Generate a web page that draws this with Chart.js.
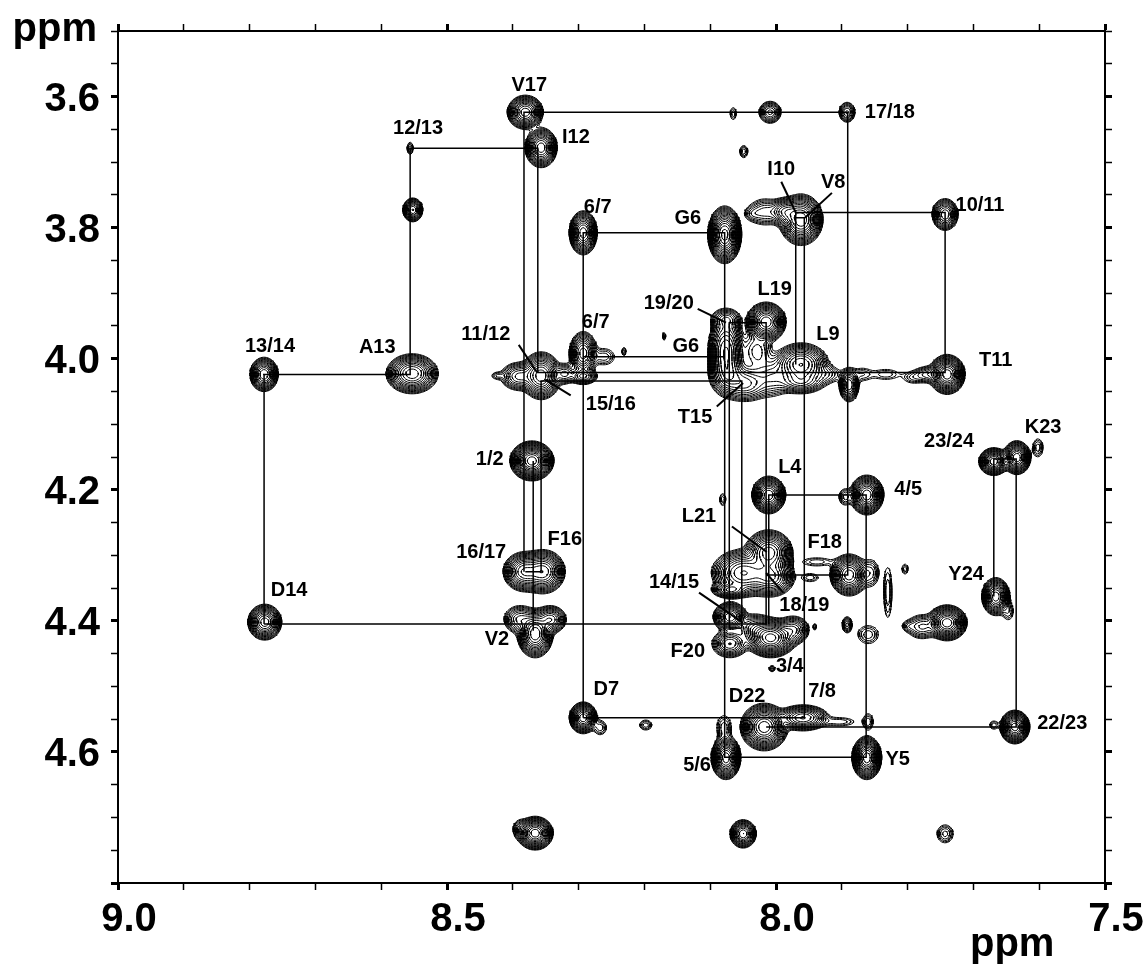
<!DOCTYPE html>
<html>
<head>
<meta charset="utf-8">
<script src="https://cdn.jsdelivr.net/npm/chart.js@4"></script>
<style>
  html, body { margin: 0; padding: 0; background: #fff; }
  canvas { display: block; }
</style>
</head>
<body>
<canvas id="grafica_noesy" width="1148" height="967"></canvas>
<script>
// cross peaks (ppm), widths are gaussian sigmas in ppm
const peakX = [8.381,8.357,8.556,8.552,8.553,8.778,8.777,8.357,8.391,8.424,8.371,8.383,8.354,8.366,8.389,8.343,8.366,8.389,
  8.293,8.078,8.293,8.293,8.261,8.321,8.231,8.170,8.065,8.009,7.892,8.049,7.962,7.986,8.017,8.036,7.743,
  8.076,8.073,8.015,8.076,8.029,8.047,8.006,7.962,7.962,7.924,7.889,7.869,7.833,7.792,7.769,7.740,
  7.669,7.634,7.602,8.011,7.862,7.895,8.081,8.050,8.011,8.008,8.070,7.889,7.856,7.938,7.948,7.830,7.804,
  7.740,7.778,7.799,7.666,7.647,7.892,7.860,7.941,8.008,8.070,8.070,8.032,7.974,8.006,
  8.293,8.267,8.198,8.018,7.959,7.903,7.860,8.079,8.076,7.862,7.637,7.669,8.050,7.743];
const peakY = [3.624,3.678,3.679,3.773,4.023,4.024,4.402,4.026,4.027,4.026,4.156,4.325,4.325,4.420,4.398,4.398,4.724,4.718,
  3.808,3.811,3.992,4.027,3.997,4.023,3.989,3.966,3.626,3.624,3.624,3.684,3.788,3.776,3.776,3.779,3.780,
  3.989,4.024,3.944,3.940,3.989,4.038,4.029,4.009,4.035,4.024,4.040,4.024,4.024,4.029,4.024,4.024,
  4.157,4.151,4.136,4.208,4.208,4.211,4.215,4.327,4.296,4.333,4.353,4.330,4.327,4.310,4.334,4.357,4.321,
  4.403,4.409,4.408,4.363,4.386,4.406,4.421,4.409,4.426,4.394,4.435,4.411,4.414,4.473,
  4.548,4.563,4.559,4.562,4.548,4.554,4.554,4.563,4.609,4.609,4.562,4.559,4.725,4.725];
const peakWx = [.0105,.0094,.0034,.0062,.0152,.0085,.0099,.0117,.0127,.0064,.0113,.0125,.0129,.0101,.0119,.0104,.0098,.0068,
  .0082,.0090,.0089,.0099,.0113,.0080,.0026,.0020,.0039,.0082,.0064,.0045,.0123,.0104,.0136,.0077,.0085,
  .0112,.0127,.0112,.0113,.0128,.0170,.0153,.0167,.0170,.0144,.0065,.0103,.0155,.0103,.0119,.0098,
  .0084,.0078,.0056,.0095,.0095,.0062,.0039,.0190,.0140,.0149,.0117,.0111,.0082,.0180,.0103,.0052,.0039,
  .0109,.0121,.0064,.0082,.0064,.0042,.0113,.0020,.0138,.0101,.0123,.0134,.0113,.0031,
  .0078,.0068,.0068,.0130,.0161,.0180,.0056,.0079,.0081,.0081,.0081,.0052,.0079,.0082];
const peakWy = [.0100,.0117,.0068,.0074,.0117,.0103,.0105,.0140,.0099,.0039,.0103,.0119,.0129,.0134,.0104,.0091,.0092,.0090,
  .0129,.0154,.0139,.0057,.0090,.0080,.0052,.0052,.0077,.0082,.0080,.0068,.0145,.0091,.0110,.0064,.0104,
  .0236,.0141,.0112,.0080,.0165,.0127,.0153,.0131,.0085,.0082,.0111,.0077,.0064,.0064,.0068,.0109,
  .0078,.0095,.0101,.0106,.0112,.0082,.0077,.0143,.0134,.0124,.0052,.0123,.0133,.0052,.0052,.0322,.0064,
  .0098,.0096,.0052,.0111,.0103,.0068,.0101,.0039,.0106,.0089,.0095,.0104,.0099,.0031,
  .0089,.0079,.0056,.0130,.0081,.0052,.0090,.0135,.0119,.0119,.0092,.0052,.0085,.0092];
const peakA = [30,30,2.5,20,30,25,30,30,10,2,80,25,30,40,8,15,50,3,
  30,60,18,10,2.5,6,2,2,2,8,6,2.5,40,15,5,2,15,
  20,10,40,6,4,10,5,25,10,3,15,2,2,2,5,50,
  40,40,2.5,40,40,3,2,25,30,20,15,30,3,2,2,2,2,
  50,6,2,30,2,5,2.5,2,60,25,12,8,10,3,
  40,2.5,2.5,50,20,2,2.5,2.5,50,50,50,2,25,3];

// sequential walk, each list is one connected path [ppm x, ppm y]
const walkLines = [
  [[8.383,4.325],[8.383,3.624],[7.891,3.624],[7.891,4.330],[8.015,4.330]],
  [[8.778,4.405],[8.778,4.024],[8.556,4.024],[8.556,3.679],[8.362,3.679],[8.362,4.021],[7.743,4.021],[7.743,3.777],[7.970,3.777],[7.970,4.009]],
  [[8.778,4.405],[8.015,4.405],[8.015,3.945],[8.071,3.945],[8.071,4.411],[8.052,4.411],[8.052,4.034],[8.357,4.034],[8.357,4.325],[8.381,4.325]],
  [[8.369,4.156],[8.369,4.415]],
  [[8.293,3.997],[8.078,3.997]],
  [[8.293,4.548],[8.293,3.808],[8.078,3.808],[8.078,4.608],[7.863,4.608],[7.863,4.208],[8.011,4.208],[8.011,4.405]],
  [[8.293,4.548],[7.957,4.548],[7.957,3.785],[7.970,3.785]],
  [[8.015,4.562],[7.635,4.562],[7.635,4.153],[7.669,4.153],[7.669,4.363]]
];
// short thick lines from a label to its peak
const leaderLines = [
  [[8.391,3.979],[8.363,4.021]],
  [[8.312,4.056],[8.351,4.032]],
  [[8.119,3.924],[8.076,3.945]],
  [[8.090,4.073],[8.050,4.037]],
  [[7.992,3.730],[7.970,3.777]],
  [[7.915,3.747],[7.956,3.785]],
  [[8.067,4.256],[8.014,4.295]],
  [[7.989,4.357],[8.015,4.327]],
  [[8.117,4.357],[8.050,4.403]]
];

const labelText = ["V17","12/13","I12","6/7","G6","I10","V8","17/18","10/11","19/20","L19","L9","6/7","G6","11/12","13/14","A13","T11",
  "15/16","T15","23/24","K23","1/2","L4","4/5","L21","F18","16/17","F16","Y24","D14","14/15","18/19","V2","F20","3/4","D7","D22","7/8","22/23","5/6","Y5"];
const labelX = [8.375,8.544,8.304,8.271,8.134,7.992,7.913,7.827,7.690,8.163,8.002,7.921,8.274,8.137,8.441,8.769,8.606,7.666,
  8.251,8.123,7.737,7.594,8.435,7.979,7.799,8.117,7.926,8.448,8.321,7.711,8.740,8.155,7.957,8.424,8.134,7.979,8.258,8.044,7.930,7.565,8.120,7.815];
const labelY = [3.583,3.649,3.663,3.770,3.786,3.711,3.731,3.624,3.766,3.915,3.895,3.963,3.945,3.982,3.963,3.982,3.983,4.002,
  4.070,4.090,4.127,4.105,4.154,4.166,4.200,4.240,4.281,4.295,4.276,4.330,4.354,4.342,4.377,4.429,4.447,4.470,4.504,4.516,4.508,4.557,4.621,4.611];

const unitText = ["ppm","ppm"];
const unitX = [9.096,7.641];
const unitY = [3.499,4.895];

// contour lines of the peak table, found with marching squares on a ppm grid
function contourSegments(){
  const xMin=7.5, xMax=9.0, yMin=3.5, yMax=4.8;
  const nx=658, ny=568;
  const dx=(xMax-xMin)/nx, dy=(yMax-yMin)/ny;
  const field=new Float64Array((nx+1)*(ny+1));
  for(let p=0;p<peakX.length;p++){
    const i0=Math.max(0,Math.floor((peakX[p]-4*peakWx[p]-xMin)/dx));
    const i1=Math.min(nx,Math.ceil((peakX[p]+4*peakWx[p]-xMin)/dx));
    const j0=Math.max(0,Math.floor((peakY[p]-4*peakWy[p]-yMin)/dy));
    const j1=Math.min(ny,Math.ceil((peakY[p]+4*peakWy[p]-yMin)/dy));
    for(let j=j0;j<=j1;j++){
      const v=(yMin+j*dy-peakY[p])/peakWy[p];
      for(let i=i0;i<=i1;i++){
        const u=(xMin+i*dx-peakX[p])/peakWx[p];
        field[j*(nx+1)+i]+=peakA[p]*Math.exp(-0.5*(u*u+v*v));
      }
    }
  }
  const levels=[];
  for(let l=1;l<400;l*=1.28) levels.push(l);
  const out=[];
  function cross(x0,y0,x1,y1,f0,f1,lev){
    const t=(lev-f0)/(f1-f0);
    return {x:x0+t*(x1-x0),y:y0+t*(y1-y0)};
  }
  for(let j=0;j<ny;j++){
    for(let i=0;i<nx;i++){
      const a=field[j*(nx+1)+i], b=field[j*(nx+1)+i+1], c=field[(j+1)*(nx+1)+i+1], d=field[(j+1)*(nx+1)+i];
      const lo=Math.min(a,b,c,d), hi=Math.max(a,b,c,d);
      if(hi<1) continue;
      const x0=xMin+i*dx, x1=x0+dx, y0=yMin+j*dy, y1=y0+dy;
      for(const lev of levels){
        if(lev<=lo) continue;
        if(lev>hi) break;
        const pts=[];
        if((a<lev)!==(b<lev)) pts.push(cross(x0,y0,x1,y0,a,b,lev));
        if((b<lev)!==(c<lev)) pts.push(cross(x1,y0,x1,y1,b,c,lev));
        if((c<lev)!==(d<lev)) pts.push(cross(x1,y1,x0,y1,c,d,lev));
        if((d<lev)!==(a<lev)) pts.push(cross(x0,y1,x0,y0,d,a,lev));
        if(pts.length>=2){ out.push(pts[0],pts[1],{x:NaN,y:NaN}); }
        if(pts.length===4){ out.push(pts[2],pts[3],{x:NaN,y:NaN}); }
      }
    }
  }
  return out;
}

function pathDataset(path,width){
  return {
    data: path.map(p=>({x:p[0],y:p[1]})),
    showLine:true, pointRadius:0, borderColor:"#000", borderWidth:width, tension:0, fill:false
  };
}

const isMajorX=v=>Math.abs(v*2-Math.round(v*2))<1e-6;
const isMajorY=v=>Math.abs(v*5-Math.round(v*5))<1e-6;

function fixSize(prop,size){
  return scale=>{
    scale[prop]=size;
    scale.paddingTop=scale.paddingBottom=scale.paddingLeft=scale.paddingRight=0;
  };
}
const axisGrid=(major)=>({
  display:true, drawOnChartArea:false, drawTicks:true, tickLength:7, tickColor:"#000",
  tickWidth:c=>major(c.tick.value)?3:1.5
});
const axisBorder={display:true,color:"#000",width:2};
const bigFont={family:"'Liberation Sans', Arial, sans-serif",size:40,weight:"bold"};

const textPlugin={
  id:"textos",
  afterDatasetsDraw(chart){
    const ctx=chart.ctx, xs=chart.scales.x, ys=chart.scales.y;
    ctx.save();
    ctx.fillStyle="#000";
    ctx.textAlign="center";
    ctx.textBaseline="middle";
    ctx.font="bold 20px 'Liberation Sans', Arial, sans-serif";
    labelText.forEach((t,i)=>ctx.fillText(t,xs.getPixelForValue(labelX[i]),ys.getPixelForValue(labelY[i])));
    ctx.font="bold 40px 'Liberation Sans', Arial, sans-serif";
    unitText.forEach((t,i)=>ctx.fillText(t,xs.getPixelForValue(unitX[i]),ys.getPixelForValue(unitY[i])));
    ctx.restore();
  }
};

new Chart("grafica_noesy",{
  type:"scatter",
  plugins:[textPlugin],
  data:{
    datasets:[
      {data:contourSegments(),showLine:true,pointRadius:0,borderColor:"#000",borderWidth:1,tension:0,fill:false,spanGaps:false},
      ...walkLines.map(l=>pathDataset(l,1.5)),
      ...leaderLines.map(l=>pathDataset(l,2))
    ]
  },
  options:{
    responsive:false,
    animation:false,
    events:[],
    layout:{padding:0},
    plugins:{legend:{display:false},tooltip:{enabled:false},title:{display:false}},
    scales:{
      x:{
        type:"linear",position:"bottom",reverse:true,min:7.5,max:9.0,
        afterFit:fixSize("height",84),
        grid:axisGrid(isMajorX),border:axisBorder,
        ticks:{stepSize:0.1,autoSkip:false,maxRotation:0,color:"#000",font:bigFont,padding:6,labelOffset:11,
          callback:v=>isMajorX(v)?v.toFixed(1):""}
      },
      xTop:{
        type:"linear",position:"top",reverse:true,min:7.5,max:9.0,
        afterFit:fixSize("height",31),
        grid:axisGrid(isMajorX),border:axisBorder,
        ticks:{stepSize:0.1,autoSkip:false,display:false}
      },
      y:{
        type:"linear",position:"left",reverse:true,min:3.5,max:4.8,
        afterFit:fixSize("width",118),
        grid:axisGrid(isMajorY),border:axisBorder,
        ticks:{stepSize:0.05,autoSkip:false,color:"#000",font:bigFont,padding:11,labelOffset:3,
          callback:v=>(isMajorY(v)&&v<4.7)?v.toFixed(1):""}
      },
      yRight:{
        type:"linear",position:"right",reverse:true,min:3.5,max:4.8,
        afterFit:fixSize("width",43),
        grid:axisGrid(isMajorY),border:axisBorder,
        ticks:{stepSize:0.05,autoSkip:false,display:false}
      }
    }
  }
});
</script>
</body>
</html>
